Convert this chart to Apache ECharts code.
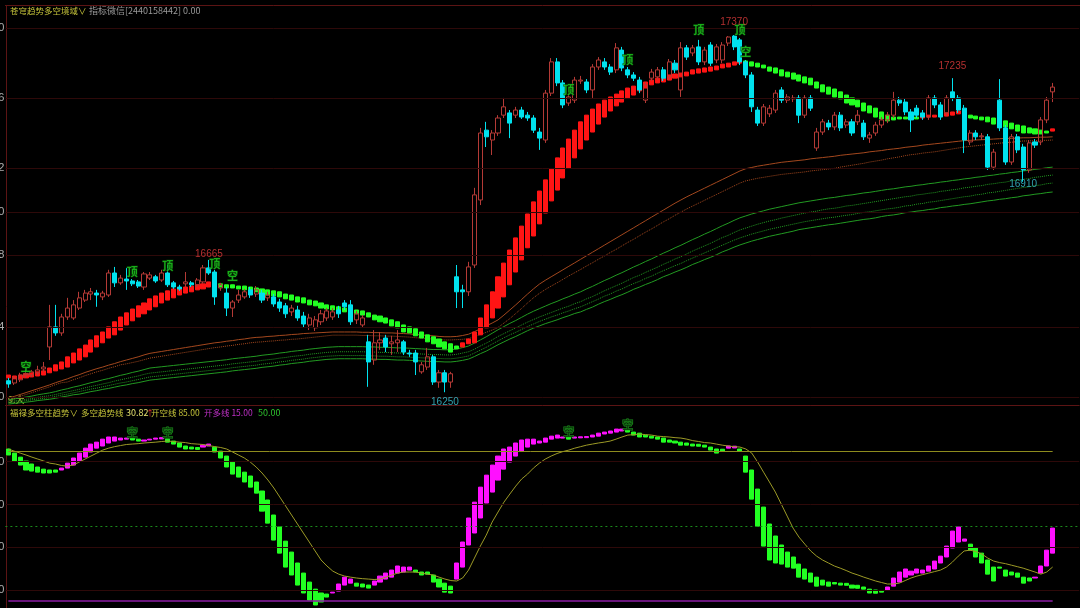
<!DOCTYPE html>
<html><head><meta charset="utf-8">
<script src="https://cdn.jsdelivr.net/npm/echarts@6/dist/echarts.min.js"></script>
<style>html,body{margin:0;padding:0;background:#000;}#c{width:1080px;height:608px;}</style>
</head><body><div id="c"></div>
<script>
// ---- price candles (OHLC) ----
const opens=[16286,16279,16289,16304,16304,16311,16323,16392,16455,16436,
16486,16483,16514,16539,16558,16561,16549,16555,16624,16593,
16605,16599,16596,16580,16608,16612,16602,16624,16593,16580,
16590,16593,16587,16596,16640,16627,16577,16561,16514,16539,
16549,16571,16558,16561,16546,16549,16533,16521,16502,16508,
16489,16461,16452,16471,16483,16486,16508,16530,16524,16477,
16461,16408,16351,16405,16420,16402,16405,16408,16373,16373,
16314,16329,16361,16282,16311,16282,16612,16571,16565,16649,
16853,17072,17041,17063,17119,17126,17119,17135,17119,17110,
17066,17041,17188,17286,17220,17157,17166,17226,17223,17198,
17270,17286,17270,17261,17323,17261,17245,17229,17166,17235,
17239,17261,17239,17282,17198,17330,17314,17333,17286,17339,
17292,17292,17345,17367,17355,17286,17245,17135,17094,17123,
17135,17198,17166,17170,17173,17119,17173,17016,17066,17094,
17082,17119,17088,17098,17098,17094,17047,17063,17088,17104,
17119,17166,17160,17129,17141,17126,17113,17173,17151,17126,
17192,17173,17141,17035,17063,17051,17051,16956,17166,17079,
16972,17051,17019,16947,17035,17035,17104,17192];
const closes=[16276,16295,16304,16308,16314,16320,16329,16455,16436,16486,
16514,16524,16546,16561,16565,16555,16561,16624,16593,16608,
16599,16590,16583,16621,16618,16599,16624,16587,16580,16574,
16596,16587,16602,16640,16624,16549,16587,16514,16533,16555,
16565,16555,16571,16539,16555,16527,16514,16496,16514,16483,
16464,16483,16477,16496,16505,16502,16496,16518,16471,16496,
16483,16345,16405,16414,16392,16408,16414,16376,16370,16345,
16336,16361,16282,16311,16282,16308,16565,16565,16643,16869,
17063,17051,17063,17110,17145,17094,17135,17113,17110,17072,
17047,17188,17286,17220,17151,17176,17229,17229,17198,17270,
17292,17270,17254,17330,17267,17245,17235,17198,17214,17254,
17261,17235,17286,17261,17330,17301,17330,17286,17323,17282,
17333,17339,17364,17333,17286,17245,17145,17094,17145,17141,
17188,17166,17176,17173,17119,17173,17141,17066,17098,17082,
17119,17079,17098,17063,17119,17051,17057,17088,17104,17119,
17166,17157,17129,17104,17119,17113,17173,17151,17113,17173,
17173,17135,17041,17063,17051,17054,16956,17003,17079,16972,
17051,17010,16947,17032,17025,17104,17166,17207];
const lows=[16264,16273,16282,16295,16298,16304,16314,16351,16427,16427,
16477,16477,16508,16533,16539,16518,16539,16549,16580,16587,
16571,16583,16577,16571,16602,16593,16596,16580,16574,16568,
16580,16580,16580,16590,16618,16524,16568,16489,16486,16530,
16543,16546,16549,16530,16536,16518,16502,16483,16489,16474,
16452,16445,16442,16461,16474,16477,16483,16508,16461,16464,
16452,16267,16336,16383,16376,16367,16376,16367,16361,16304,
16308,16320,16273,16264,16250,16264,16514,16514,16552,16640,
16837,17019,16994,17054,17110,17047,17110,17107,17101,17063,
17010,17032,17179,17210,17141,17148,17157,17217,17188,17173,
17261,17261,17245,17251,17257,17235,17226,17188,17157,17226,
17229,17226,17229,17251,17176,17292,17304,17276,17276,17273,
17282,17282,17336,17323,17276,17235,17129,17085,17085,17113,
17126,17157,17157,17160,17094,17110,17132,17007,17057,17072,
17072,17069,17079,17054,17088,17041,17032,17054,17079,17094,
17110,17148,17119,17066,17110,17104,17104,17141,17104,17116,
17163,17126,17000,17025,17041,17041,16947,16947,17069,16963,
16963,17000,16910,16938,17016,17025,17094,17160];
const highs=[16295,16301,16311,16320,16320,16333,16345,16524,16524,16496,
16546,16539,16565,16571,16577,16571,16568,16634,16643,16618,
16640,16605,16602,16627,16627,16618,16634,16649,16599,16587,
16627,16599,16608,16649,16665,16634,16593,16580,16539,16571,
16574,16580,16583,16571,16565,16558,16543,16530,16524,16521,
16502,16496,16489,16508,16514,16514,16521,16539,16539,16505,
16492,16430,16445,16439,16430,16427,16445,16414,16383,16383,
16345,16389,16367,16320,16320,16314,16649,16587,16659,16891,
17079,17098,17072,17119,17173,17135,17145,17145,17129,17119,
17079,17198,17298,17298,17229,17188,17239,17242,17232,17279,
17301,17298,17279,17345,17333,17270,17254,17239,17223,17264,
17270,17270,17295,17292,17348,17339,17339,17355,17333,17348,
17342,17348,17367,17370,17361,17292,17254,17145,17154,17151,
17198,17207,17185,17182,17182,17182,17182,17079,17107,17104,
17129,17129,17107,17107,17135,17104,17066,17098,17113,17129,
17192,17176,17170,17138,17151,17135,17182,17182,17160,17182,
17235,17182,17151,17072,17072,17063,17060,17013,17232,17088,
17060,17060,17029,17041,17044,17113,17176,17220];
// ---- trend ribbon (fast / slow line) ----
const trailFast=[16304,16301,16304,16308,16311,16314,16317,16326,16336,16345,
16361,16373,16386,16398,16414,16427,16439,16455,16471,16486,
16499,16511,16521,16530,16543,16552,16561,16568,16574,16577,
16580,16583,16587,16590,16596,16596,16580,16577,16577,16574,
16571,16568,16565,16561,16555,16552,16549,16543,16539,16533,
16530,16524,16521,16514,16511,16508,16505,16502,16499,16496,
16492,16486,16477,16471,16467,16458,16452,16439,16436,16427,
16420,16408,16402,16392,16386,16376,16386,16405,16417,16439,
16483,16524,16565,16612,16655,16696,16734,16771,16809,16847,
16881,16916,16950,16985,17016,17044,17072,17098,17119,17138,
17154,17166,17176,17185,17195,17204,17210,17217,17223,17229,
17235,17239,17245,17248,17251,17254,17261,17264,17267,17270,
17273,17279,17282,17286,17292,17279,17273,17270,17267,17257,
17251,17242,17239,17232,17226,17220,17214,17204,17192,17185,
17176,17170,17157,17151,17145,17132,17126,17113,17107,17101,
17104,17107,17107,17107,17107,17116,17119,17119,17123,17126,
17129,17132,17113,17110,17107,17104,17098,17091,17085,17082,
17076,17069,17063,17063,17060,17060,17063,17076];
const trailSlow=[16295,16292,16292,16295,16298,16301,16304,16311,16317,16323,
16329,16342,16351,16361,16376,16392,16405,16420,16430,16445,
16461,16474,16486,16496,16508,16518,16530,16539,16546,16555,
16561,16565,16571,16574,16580,16587,16590,16587,16587,16583,
16583,16580,16577,16574,16571,16568,16565,16558,16555,16549,
16546,16539,16536,16530,16524,16521,16518,16514,16511,16508,
16505,16499,16492,16489,16483,16477,16471,16461,16455,16449,
16439,16430,16424,16417,16408,16402,16395,16392,16402,16405,
16430,16452,16483,16514,16549,16587,16627,16665,16703,16740,
16778,16812,16850,16884,16922,16953,16985,17013,17041,17066,
17091,17113,17132,17148,17160,17173,17182,17195,17204,17214,
17220,17223,17229,17235,17239,17242,17248,17251,17254,17257,
17261,17267,17270,17276,17282,17289,17286,17282,17276,17270,
17267,17261,17254,17251,17245,17239,17235,17223,17214,17207,
17201,17192,17182,17173,17166,17157,17148,17141,17129,17119,
17113,17113,17113,17113,17113,17110,17113,17113,17116,17116,
17119,17123,17123,17119,17116,17113,17113,17110,17107,17101,
17094,17088,17085,17079,17076,17072,17069,17069];
// ---- moving average lines ----
const ma1=[16232,16237,16243,16249,16255,16261,16267,16273,16280,16286,
16292,16299,16305,16312,16318,16324,16329,16335,16340,16346,
16351,16356,16361,16367,16372,16375,16378,16381,16384,16387,
16390,16393,16396,16399,16402,16405,16407,16410,16412,16415,
16417,16420,16422,16423,16425,16426,16428,16429,16431,16432,
16434,16435,16436,16437,16438,16439,16439,16439,16439,16439,
16438,16438,16437,16437,16436,16436,16435,16434,16433,16431,
16430,16428,16427,16425,16424,16424,16425,16428,16432,16440,
16449,16458,16467,16477,16492,16508,16524,16541,16558,16574,
16589,16601,16612,16623,16634,16645,16656,16667,16678,16689,
16700,16711,16722,16733,16744,16755,16766,16777,16788,16799,
16810,16821,16832,16843,16853,16863,16872,16881,16890,16899,
16908,16917,16926,16935,16944,16951,16955,16959,16962,16965,
16968,16971,16973,16975,16977,16979,16982,16984,16986,16988,
16990,16993,16995,16997,16999,17001,17004,17006,17008,17011,
17013,17015,17018,17020,17022,17025,17027,17029,17031,17033,
17035,17037,17039,17040,17041,17042,17043,17044,17045,17046,
17046,17047,17048,17048,17049,17050,17050,17051];
const ma2=[16226,16231,16237,16243,16249,16255,16261,16267,16274,16280,
16282,16289,16295,16302,16308,16314,16319,16325,16330,16336,
16339,16343,16347,16352,16357,16360,16363,16366,16369,16372,
16375,16378,16381,16384,16387,16390,16392,16395,16397,16400,
16402,16405,16407,16408,16410,16411,16413,16414,16416,16417,
16419,16421,16423,16425,16427,16429,16429,16429,16429,16429,
16428,16428,16427,16427,16426,16426,16425,16424,16423,16421,
16420,16418,16417,16415,16414,16414,16415,16416,16418,16424,
16431,16438,16445,16453,16467,16481,16497,16513,16530,16546,
16560,16572,16583,16593,16604,16615,16625,16635,16646,16656,
16667,16677,16688,16698,16709,16720,16730,16741,16752,16762,
16773,16784,16794,16805,16815,16825,16834,16843,16852,16861,
16870,16879,16888,16897,16906,16913,16917,16921,16924,16927,
16930,16933,16935,16937,16939,16941,16944,16946,16948,16950,
16952,16956,16959,16962,16965,16968,16972,16975,16978,16982,
16985,16988,16992,16995,16997,17000,17002,17004,17007,17010,
17013,17016,17019,17021,17023,17025,17027,17029,17031,17033,
17034,17036,17038,17038,17039,17040,17040,17041];
const ma3=[16226,16229,16232,16235,16238,16242,16245,16248,16252,16257,
16261,16266,16270,16275,16280,16284,16289,16293,16298,16303,
16307,16312,16316,16321,16326,16328,16330,16332,16334,16336,
16338,16340,16342,16344,16346,16348,16350,16352,16355,16357,
16359,16361,16363,16366,16368,16370,16373,16375,16378,16380,
16382,16385,16387,16389,16391,16392,16393,16393,16393,16393,
16393,16392,16392,16391,16391,16390,16389,16389,16388,16387,
16386,16385,16384,16384,16383,16383,16386,16390,16395,16404,
16414,16424,16435,16446,16456,16466,16475,16485,16495,16504,
16512,16520,16528,16535,16543,16550,16558,16565,16574,16582,
16591,16600,16608,16617,16625,16634,16643,16651,16660,16668,
16677,16686,16694,16703,16711,16720,16729,16737,16746,16754,
16763,16772,16780,16789,16797,16803,16809,16814,16819,16824,
16828,16832,16836,16840,16844,16847,16850,16853,16856,16859,
16861,16864,16867,16869,16872,16875,16877,16880,16883,16886,
16888,16891,16894,16896,16899,16901,16904,16906,16909,16911,
16914,16916,16919,16921,16924,16926,16929,16931,16934,16936,
16939,16941,16944,16946,16949,16951,16954,16956];
const ma4=[16220,16223,16225,16228,16230,16234,16237,16239,16243,16247,
16251,16255,16259,16264,16268,16272,16276,16280,16285,16289,
16293,16297,16301,16306,16310,16312,16314,16316,16318,16320,
16322,16324,16326,16328,16330,16332,16334,16336,16339,16341,
16343,16345,16347,16350,16352,16354,16357,16359,16362,16364,
16366,16369,16371,16373,16375,16376,16377,16377,16377,16377,
16377,16376,16376,16375,16375,16374,16373,16373,16372,16371,
16370,16369,16368,16368,16367,16367,16369,16373,16377,16385,
16395,16404,16414,16425,16434,16443,16452,16461,16470,16478,
16486,16493,16500,16507,16514,16520,16528,16534,16543,16550,
16559,16568,16576,16584,16592,16601,16610,16617,16626,16634,
16642,16651,16659,16668,16675,16684,16693,16701,16709,16717,
16726,16735,16742,16751,16759,16765,16771,16777,16782,16787,
16791,16796,16800,16804,16808,16812,16815,16818,16822,16825,
16827,16830,16834,16836,16839,16842,16845,16848,16851,16854,
16857,16860,16863,16865,16869,16871,16874,16876,16880,16882,
16885,16887,16891,16893,16896,16898,16902,16904,16907,16909,
16913,16915,16918,16920,16924,16926,16929,16931];
const ma5=[16217,16219,16221,16224,16226,16229,16231,16233,16237,16241,
16244,16248,16252,16256,16260,16263,16267,16271,16275,16279,
16282,16286,16290,16294,16298,16300,16302,16304,16306,16308,
16310,16312,16314,16316,16318,16320,16322,16324,16327,16329,
16331,16333,16335,16338,16340,16342,16345,16347,16350,16352,
16354,16357,16359,16361,16363,16364,16365,16365,16365,16365,
16365,16364,16364,16363,16363,16362,16361,16361,16360,16359,
16358,16357,16356,16356,16355,16355,16357,16360,16364,16373,
16382,16391,16401,16411,16421,16430,16438,16447,16456,16464,
16472,16479,16486,16492,16499,16505,16512,16518,16526,16534,
16542,16551,16558,16567,16574,16583,16591,16598,16607,16614,
16623,16631,16639,16647,16654,16663,16671,16679,16687,16695,
16703,16711,16719,16727,16734,16740,16746,16751,16756,16761,
16765,16769,16773,16777,16781,16785,16788,16791,16794,16797,
16799,16802,16805,16807,16811,16814,16816,16819,16822,16825,
16827,16830,16834,16836,16840,16842,16846,16848,16851,16854,
16857,16860,16863,16865,16869,16871,16875,16877,16880,16883,
16886,16889,16892,16894,16898,16900,16904,16906];
const ma6=[16213,16215,16217,16219,16221,16224,16226,16228,16231,16235,
16238,16242,16244,16248,16252,16255,16259,16262,16266,16270,
16273,16277,16280,16284,16288,16290,16292,16294,16296,16298,
16300,16302,16304,16306,16308,16310,16312,16314,16317,16319,
16321,16323,16325,16328,16330,16332,16335,16337,16340,16342,
16344,16347,16349,16351,16353,16354,16355,16355,16355,16355,
16355,16354,16354,16353,16353,16352,16351,16351,16350,16349,
16348,16347,16346,16346,16345,16345,16347,16350,16354,16362,
16371,16379,16389,16399,16408,16417,16425,16434,16443,16451,
16458,16465,16471,16477,16484,16490,16497,16502,16510,16517,
16526,16534,16541,16549,16556,16564,16573,16580,16588,16595,
16603,16612,16619,16627,16634,16642,16651,16658,16666,16673,
16681,16690,16697,16705,16712,16718,16724,16729,16734,16739,
16743,16747,16751,16755,16760,16763,16766,16769,16772,16775,
16777,16780,16783,16786,16789,16792,16794,16797,16801,16804,
16806,16809,16813,16815,16818,16820,16823,16825,16829,16831,
16834,16836,16839,16841,16844,16847,16850,16852,16855,16857,
16860,16862,16866,16868,16871,16873,16876,16878];
// ---- lower panel: trend bars and trend line ----
const barOpen=[85.9,84.0,82.1,80.3,78.9,77.5,76.5,76.1,76.1,76.1,
77.0,78.4,80.3,82.1,84.5,86.3,87.3,88.7,89.6,90.1,
90.5,91.0,90.5,89.6,90.1,90.5,90.6,90.5,89.6,88.7,
87.3,86.8,86.6,86.8,87.3,86.8,84.9,82.6,79.8,77.5,
75.1,73.3,70.5,66.3,62.1,55.1,49.5,42.9,37.8,32.7,
28.0,23.8,20.5,18.7,18.2,18.7,19.6,22.4,23.3,23.3,
22.9,22.4,22.4,23.8,25.2,26.1,28.0,28.5,29.4,29.4,
28.5,28.5,27.1,25.2,23.3,21.9,25.2,30.8,41.1,46.7,
53.7,60.7,65.8,71.4,76.5,79.8,82.6,84.9,86.8,88.2,
88.7,89.1,90.5,91.0,91.0,91.5,91.0,91.1,91.2,91.5,
91.9,92.9,93.3,93.8,94.3,94.7,93.8,93.3,92.4,91.9,
91.5,91.0,90.1,89.6,89.1,88.7,88.2,88.1,87.7,86.8,
85.9,85.8,86.3,86.4,85.9,82.6,76.1,67.2,58.8,50.9,
45.3,41.1,37.8,35.5,32.2,29.9,28.0,26.1,24.7,23.8,
23.6,23.3,23.2,22.4,22.3,21.5,20.5,20.1,19.6,20.1,
21.9,23.8,26.1,27.1,28.0,28.0,28.9,29.9,32.7,35.5,
39.7,42.5,42.9,41.5,39.7,37.3,34.1,30.8,30.8,29.4,
28.5,28.0,26.1,25.7,25.7,28.0,31.3,37.3];
const barClose=[83.1,80.3,78.4,76.1,75.6,75.1,74.7,74.7,75.1,77.0,
79.3,81.7,84.0,86.3,88.2,89.1,90.5,91.5,91.5,91.0,
91.0,90.1,89.6,90.1,90.5,91.0,91.2,89.1,88.2,86.8,
85.9,85.9,85.7,87.7,88.2,84.5,81.7,77.5,74.2,72.8,
70.5,68.1,65.3,56.9,51.3,43.4,37.3,30.8,27.1,22.4,
18.7,15.4,13.1,14.5,16.8,19.1,22.9,26.1,25.2,21.9,
21.5,21.0,24.3,26.6,28.0,29.4,31.3,30.8,30.8,28.5,
27.1,27.5,23.8,21.5,19.1,18.7,32.7,42.5,53.7,61.1,
68.1,73.7,78.4,82.6,85.9,86.8,88.7,90.1,90.5,90.5,
89.6,91.0,91.9,92.4,91.5,90.5,91.5,91.6,91.7,92.4,
93.3,93.8,94.3,95.2,95.2,93.8,92.4,91.5,91.5,91.0,
90.5,89.1,89.1,88.7,87.7,87.7,87.3,87.2,86.8,85.4,
84.0,84.9,87.3,87.2,84.9,75.1,62.5,49.9,40.6,34.1,
32.7,32.2,30.8,30.3,26.1,25.2,23.8,21.9,22.4,21.9,
22.9,22.4,22.3,21.0,20.9,20.5,18.7,18.6,19.1,21.5,
25.7,28.5,29.9,28.9,29.9,29.4,31.3,33.6,35.9,40.6,
47.6,49.5,43.9,38.7,35.5,32.7,27.5,24.3,30.3,26.6,
27.1,26.1,23.3,24.3,26.1,31.3,38.7,49.0];
const trendLine=[85.9,84.9,84.0,83.1,82.1,81.2,80.3,79.3,78.9,78.2,
77.9,78.4,79.8,81.2,82.6,84.0,85.4,86.3,87.0,87.5,
88.0,88.2,88.4,88.7,88.9,89.1,89.4,89.6,89.4,89.1,
88.9,88.4,88.2,88.0,87.5,87.0,86.6,85.9,84.5,83.1,
81.7,79.8,77.5,74.7,71.4,67.7,63.5,59.3,55.1,50.9,
46.7,42.5,38.3,34.1,31.3,28.9,27.5,26.6,26.1,25.7,
25.4,25.2,25.0,25.2,26.1,27.1,28.0,28.5,28.5,28.5,
28.0,27.5,27.1,26.1,25.2,24.5,24.3,25.7,29.4,35.0,
40.6,45.7,51.8,56.5,61.1,64.9,68.6,71.9,74.2,77.0,
79.3,81.2,82.6,83.8,84.7,85.4,86.3,87.0,87.7,88.2,
88.7,89.1,89.6,90.5,91.5,92.4,92.6,92.9,92.6,92.4,
91.9,91.7,91.5,91.2,91.0,90.5,89.8,89.4,88.9,88.7,
88.2,87.7,87.3,87.0,86.8,85.9,84.0,79.8,75.1,70.5,
65.8,60.2,54.6,49.0,44.8,41.5,38.3,35.9,34.1,32.7,
31.3,30.3,29.2,28.0,27.1,26.1,25.2,24.3,23.6,22.9,
22.9,23.3,24.5,25.7,26.6,27.3,28.0,28.7,29.4,30.8,
33.1,35.9,38.3,38.7,38.0,36.9,35.0,33.6,32.9,32.4,
31.7,31.0,30.3,29.4,28.5,27.5,28.5,30.82];
// ---- axis ticks / levels / annotations ----
const mainTickValues=[17392,17173,16953,16815,16681,16455,16235];
const mainTickLabels=['0','6','2','0','8','4','0'];
const subTickValues=[100,80,60,40,20];
const subTickLabels=['0','0','0','0','0'];
const levelShort=85, levelMid=50, levelLong=15;
const mainMarks=[[3,16329,'空'],[21,16627,'顶'],[27,16646,'顶'],[35,16652,'顶'],[38,16615,'空'],
 [95,17198,'顶'],[105,17292,'顶'],[117,17386,'顶'],[124,17386,'顶'],[125,17317,'空']];
const priceNotes=[[34,16684,'16665','up'],[123,17411,'17370','up'],[160,17273,'17235','up'],
 [74,16220,'16250','down'],[172,16903,'16910','down']];
const subMarks=[[21,93.3,'空'],[27,93.3,'空'],[95,93.8,'空'],[105,97.1,'空']];

const N=closes.length, EXTRA=4;
const cats=[]; for(let i=0;i<N+EXTRA;i++) cats.push(i);
const CJK='"Noto Sans CJK SC", sans-serif';
const GRID_RED='#2e0909';

const candleData=opens.map((o,i)=>[o,closes[i],lows[i],highs[i]]);
const trailData=trailFast.map((f,i)=>[trailSlow[i],f,Math.min(f,trailSlow[i]),Math.max(f,trailSlow[i])]);
const subBarData=barOpen.map((o,i)=>[o,barClose[i],Math.min(o,barClose[i]),Math.max(o,barClose[i])]);

function maSeries(data,color,type,z){
  return {type:'line',xAxisIndex:0,yAxisIndex:0,data:data,showSymbol:false,silent:true,z:z||2,
    lineStyle:{color:color,width:1,type:type},animation:false};
}

const chart=echarts.init(document.getElementById('c'),null,{renderer:'canvas'});
chart.setOption({
  backgroundColor:'#000',
  animation:false,
  grid:[{left:5.4,top:8,width:1073.8,height:397},{left:5.4,top:407,width:1073.8,height:201}],
  xAxis:[
    {type:'category',gridIndex:0,data:cats,boundaryGap:true,axisLine:{show:true,lineStyle:{color:'#5c1414'}},axisTick:{show:false},axisLabel:{show:false},splitLine:{show:false}},
    {type:'category',gridIndex:1,data:cats,boundaryGap:true,axisLine:{show:false},axisTick:{show:false},axisLabel:{show:false},splitLine:{show:false}}
  ],
  yAxis:[
    {type:'value',gridIndex:0,min:16210,max:17455,axisLine:{show:false},axisTick:{show:false},axisLabel:{show:false},splitLine:{show:false}},
    {type:'value',gridIndex:1,min:11.7,max:105.5,axisLine:{show:false},axisTick:{show:false},axisLabel:{show:false},splitLine:{show:false}}
  ],
  series:[
    Object.assign(maSeries(ma1,'#a4481e','solid',2),{
      markLine:{silent:true,symbol:['none','none'],animation:false,
        lineStyle:{color:GRID_RED,type:'solid',width:1},
        label:{show:true,position:'start',distance:1,color:'#b0b0b0',fontSize:11,fontFamily:'Liberation Sans'},
        data:mainTickValues.map((v,k)=>({yAxis:v,label:{formatter:mainTickLabels[k]}}))}
    }),
    maSeries(ma2,'#a4481e','dotted',2),
    maSeries(ma3,'#229a22','solid',2),
    maSeries(ma4,'#229a22','dotted',2),
    maSeries(ma5,'#229a22','dotted',2),
    maSeries(ma6,'#229a22','solid',2),
    {type:'candlestick',name:'ribbon',xAxisIndex:0,yAxisIndex:0,data:trailData,barWidth:4.6,silent:true,z:3,
      itemStyle:{color:'#ff1414',color0:'#22ff22',borderColor:'#ff1414',borderColor0:'#22ff22',borderWidth:1}},
    {type:'candlestick',name:'price',xAxisIndex:0,yAxisIndex:0,data:candleData,barWidth:4.6,silent:true,z:4,
      itemStyle:{color:'rgba(0,0,0,0)',color0:'#00e2ee',borderColor:'#b43a36',borderColor0:'#00e2ee',borderWidth:1}},
    {type:'scatter',xAxisIndex:0,yAxisIndex:0,symbolSize:1,silent:true,z:6,itemStyle:{color:'rgba(0,0,0,0)'},
      data:mainMarks.map(m=>({value:[m[0],m[1]],label:{formatter:m[2]}})),
      label:{show:true,position:'inside',color:'#1fd21f',fontSize:11,fontFamily:CJK,fontWeight:'bold',textBorderColor:'#063806',textBorderWidth:1}},
    {type:'scatter',xAxisIndex:0,yAxisIndex:0,symbolSize:1,silent:true,z:6,itemStyle:{color:'rgba(0,0,0,0)'},
      data:priceNotes.map(m=>({value:[m[0],m[1]],label:{formatter:m[2],color:m[3]==='up'?'#e23c3c':'#3cc8d8'}})),
      label:{show:true,position:'inside',fontSize:10,fontFamily:'Liberation Sans'}},
    // lower panel
    {type:'candlestick',name:'bars',xAxisIndex:1,yAxisIndex:1,data:subBarData,barWidth:4.6,silent:true,z:3,
      itemStyle:{color:'#ff10ff',color0:'#22ff22',borderColor:'#ff10ff',borderColor0:'#22ff22',borderWidth:1}},
    {type:'line',xAxisIndex:1,yAxisIndex:1,data:trendLine,showSymbol:false,silent:true,z:4,
      lineStyle:{color:'#9c9a26',width:1},
      markLine:{silent:true,symbol:['none','none'],animation:false,
        label:{show:false},
        data:subTickValues.map((v,k)=>({yAxis:v,lineStyle:{color:GRID_RED,width:1,type:'solid',opacity:v===100?0:1},
              label:{show:true,position:'start',distance:1,color:'#b0b0b0',fontSize:11,fontFamily:'Liberation Sans',formatter:subTickLabels[k]}}))
          .concat([
            {yAxis:levelMid,lineStyle:{color:'#1c8a1c',type:[2,3],width:1}},
            [{coord:[0,levelShort],lineStyle:{color:'#8e8c1e',type:'solid',width:1}},{coord:[N-1,levelShort]}],
            [{coord:[0,levelLong],lineStyle:{color:'#8c1ea4',type:'solid',width:1.5}},{coord:[N-1,levelLong]}]
          ])}},
    {type:'scatter',xAxisIndex:1,yAxisIndex:1,symbolSize:1,silent:true,z:6,itemStyle:{color:'rgba(0,0,0,0)'},
      data:subMarks.map(m=>({value:[m[0],m[1]],label:{formatter:m[2]}})),
      label:{show:true,position:'inside',color:'#0a3a0a',fontSize:11,fontFamily:CJK,fontWeight:'bold',textBorderColor:'#22b022',textBorderWidth:1}}
  ],
  graphic:[
    {type:'line',silent:true,shape:{x1:5,y1:5.5,x2:1080,y2:5.5},style:{stroke:'#5c1414',lineWidth:1}},
    {type:'line',silent:true,shape:{x1:6.5,y1:5,x2:6.5,y2:608},style:{stroke:'#5c1414',lineWidth:1}},
    {type:'text',silent:true,x:10,y:11,style:{text:'苍穹趋势多空境域∨',fill:'#c6c43a',font:'8.5px '+CJK,verticalAlign:'middle'}},
    {type:'text',silent:true,x:89,y:11,style:{text:'指标微信[2440158442] 0.00',fill:'#9a9a9a',font:'9px '+CJK,verticalAlign:'middle'}},
    {type:'text',silent:true,x:8,y:400,style:{text:'9:大',fill:'#c6c43a',font:'9px '+CJK,verticalAlign:'middle'}},
    {type:'text',silent:true,x:10,y:413,style:{text:'福禄多空柱趋势∨',fill:'#c6c43a',font:'8.5px '+CJK,verticalAlign:'middle'}},
    {type:'text',silent:true,x:81,y:413,style:{text:'多空趋势线',fill:'#c6c43a',font:'8.5px '+CJK,verticalAlign:'middle'}},
    {type:'text',silent:true,x:126,y:413,style:{text:'30.82',fill:'#e6e270',font:'9px '+CJK,verticalAlign:'middle'}},
    {type:'text',silent:true,x:146,y:413,style:{text:'↑',fill:'#e23030',font:'8px '+CJK,verticalAlign:'middle'}},
    {type:'text',silent:true,x:151,y:413,style:{text:'开空线 85.00',fill:'#c6c43a',font:'8.5px '+CJK,verticalAlign:'middle'}},
    {type:'text',silent:true,x:204,y:413,style:{text:'开多线 15.00',fill:'#c030c8',font:'8.5px '+CJK,verticalAlign:'middle'}},
    {type:'text',silent:true,x:258,y:413,style:{text:'50.00',fill:'#2ec42e',font:'9px '+CJK,verticalAlign:'middle'}}
  ]
});
</script>
</body></html>
